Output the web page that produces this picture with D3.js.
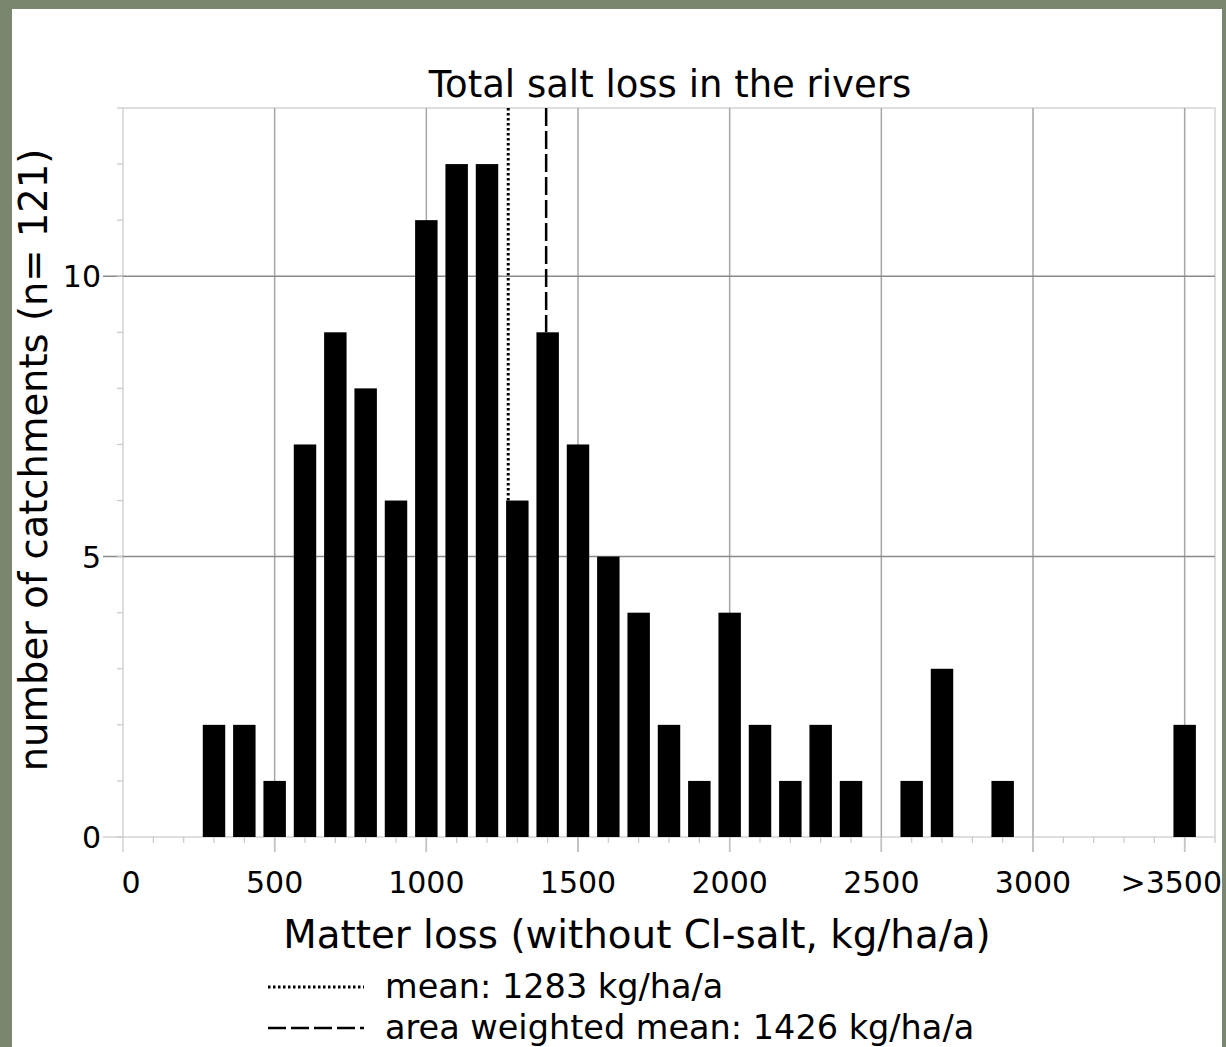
<!DOCTYPE html>
<html lang="en">
<head>
  <meta charset="UTF-8">
  <title>Total salt loss in the rivers</title>
  <style>
    body { margin: 0; background: #7a866f; overflow: hidden; }
    text { font-family: "DejaVu Sans", sans-serif; fill: #000; }
    .grid-v line { stroke: #a6a6a6; stroke-width: 1.5px; }
    .grid-h line { stroke: #8a8a8a; stroke-width: 1.5px; }
    .frame { fill: none; stroke: #d4d4d4; stroke-width: 1.5px; }
    .bar { fill: #000; }
  </style>
</head>
<body>
  <script src="https://d3js.org/d3.v7.min.js"></script>
  <script>
    // bin centres (kg/ha/a), last bin is ">3500"
    const binCenters = [300, 400, 500, 600, 700, 800, 900, 1000, 1100, 1200, 1300, 1400, 1500,
                        1600, 1700, 1800, 1900, 2000, 2100, 2200, 2300, 2400, 2500, 2600, 2700,
                        2800, 2900, 3000, 3100, 3200, 3300, 3400, 3500];
    const counts = [2, 2, 1, 7, 9, 8, 6, 11, 12, 12, 6, 9, 7,
                    5, 4, 2, 1, 4, 2, 1, 2, 1, 0, 1, 3,
                    0, 1, 0, 0, 0, 0, 0, 2];
    const xTicks = [0, 500, 1000, 1500, 2000, 2500, 3000, 3500];
    const xTickLabels = ["0", "500", "1000", "1500", "2000", "2500", "3000", ">3500"];
    const yTicks = [0, 5, 10];
    // position of the reference lines as drawn, with their legend values
    const meanLines = [
      { pos: 1270, label: "mean: 1283 kg/ha/a", dash: "2.5,2.5", width: 3 },
      { pos: 1395, label: "area weighted mean: 1426 kg/ha/a", dash: "18,5", width: 2.5 }
    ];

    const W = 1226, H = 1047;
    const plot = { left: 123, right: 1215, top: 108, bottom: 837 };

    const svg = d3.select("body").append("svg").attr("width", W).attr("height", H);
    svg.append("rect").attr("x", 12).attr("y", 9).attr("width", 1210).attr("height", H - 9).attr("fill", "#fff");

    const x = d3.scaleLinear().domain([0, 3600]).range([plot.left, plot.right]);
    const y = d3.scaleLinear().domain([0, 13]).range([plot.bottom, plot.top]);

    // frame
    svg.append("rect").attr("class", "frame")
      .attr("x", plot.left).attr("y", plot.top)
      .attr("width", plot.right - plot.left).attr("height", plot.bottom - plot.top);

    // vertical grid
    svg.append("g").attr("class", "grid-v")
      .selectAll("line").data(xTicks.filter(d => d > 0)).enter().append("line")
      .attr("x1", d => x(d)).attr("x2", d => x(d))
      .attr("y1", plot.top).attr("y2", plot.bottom + 15);

    // horizontal grid
    svg.append("g").attr("class", "grid-h")
      .selectAll("line").data(yTicks.filter(d => d > 0)).enter().append("line")
      .attr("x1", plot.left - 20).attr("x2", plot.right)
      .attr("y1", d => y(d)).attr("y2", d => y(d));

    // minor ticks
    svg.append("g").selectAll("line").data(d3.range(0, 3601, 100)).enter().append("line")
      .attr("x1", d => x(d)).attr("x2", d => x(d))
      .attr("y1", plot.bottom).attr("y2", d => plot.bottom + (d % 500 === 0 ? 15 : 6))
      .attr("stroke", "#c8c8c8").attr("stroke-width", 1.2);
    svg.append("g").selectAll("line").data(d3.range(0, 14)).enter().append("line")
      .attr("x1", plot.left - 6).attr("x2", plot.left)
      .attr("y1", d => y(d)).attr("y2", d => y(d))
      .attr("stroke", "#c8c8c8").attr("stroke-width", 1.2);
    svg.append("line").attr("x1", plot.left - 20).attr("x2", plot.left)
      .attr("y1", y(0)).attr("y2", y(0)).attr("stroke", "#c8c8c8").attr("stroke-width", 1.2);

    // bars
    const binW = x(100) - x(0);
    const barW = binW * 0.74;
    svg.append("g").selectAll("rect").data(binCenters.map((c, i) => ({ c, n: counts[i] })).filter(d => d.n > 0))
      .enter().append("rect").attr("class", "bar")
      .attr("x", d => x(d.c) - barW / 2).attr("width", barW)
      .attr("y", d => y(d.n)).attr("height", d => y(0) - y(d.n));

    // mean lines, down to the bar they hit
    const countAt = v => {
      const i = binCenters.findIndex(c => Math.abs(v - c) <= 50);
      return i < 0 ? 0 : counts[i];
    };
    svg.append("g").selectAll("line").data(meanLines).enter().append("line")
      .attr("x1", d => x(d.pos)).attr("x2", d => x(d.pos))
      .attr("y1", plot.top).attr("y2", d => y(countAt(d.pos)))
      .attr("stroke", "#000").attr("stroke-width", d => d.width)
      .attr("stroke-dasharray", d => d.dash);

    // tick labels
    svg.append("g").selectAll("text").data(xTicks).enter().append("text")
      .attr("x", (d, i) => i === 0 ? x(d) + 8 : (i === xTicks.length - 1 ? 1222 : x(d)))
      .attr("y", 893)
      .attr("text-anchor", (d, i) => i === xTicks.length - 1 ? "end" : "middle")
      .attr("font-size", 30)
      .text((d, i) => xTickLabels[i]);
    svg.append("g").selectAll("text").data(yTicks).enter().append("text")
      .attr("x", 101).attr("y", d => y(d) + 11).attr("text-anchor", "end").attr("font-size", 30)
      .text(d => d);

    // titles
    svg.append("text").attr("x", 670).attr("y", 97).attr("text-anchor", "middle")
      .attr("font-size", 37).text("Total salt loss in the rivers");
    svg.append("text").attr("x", 637).attr("y", 948).attr("text-anchor", "middle")
      .attr("font-size", 38.8).text("Matter loss (without Cl-salt, kg/ha/a)");
    svg.append("text").attr("transform", "translate(47,460) rotate(-90)").attr("text-anchor", "middle")
      .attr("font-size", 38.5).text("number of catchments (n= 121)");

    // legend
    const leg = svg.append("g").selectAll("g").data(meanLines).enter().append("g")
      .attr("transform", (d, i) => `translate(268,${987 + i * 41})`);
    leg.append("line").attr("x1", 0).attr("x2", 96).attr("y1", 0).attr("y2", 0)
      .attr("stroke", "#000").attr("stroke-width", d => d.width)
      .attr("stroke-dasharray", d => d.dash);
    leg.append("text").attr("x", 117).attr("y", 11).attr("font-size", 33.5).text(d => d.label);
  </script>
</body>
</html>
